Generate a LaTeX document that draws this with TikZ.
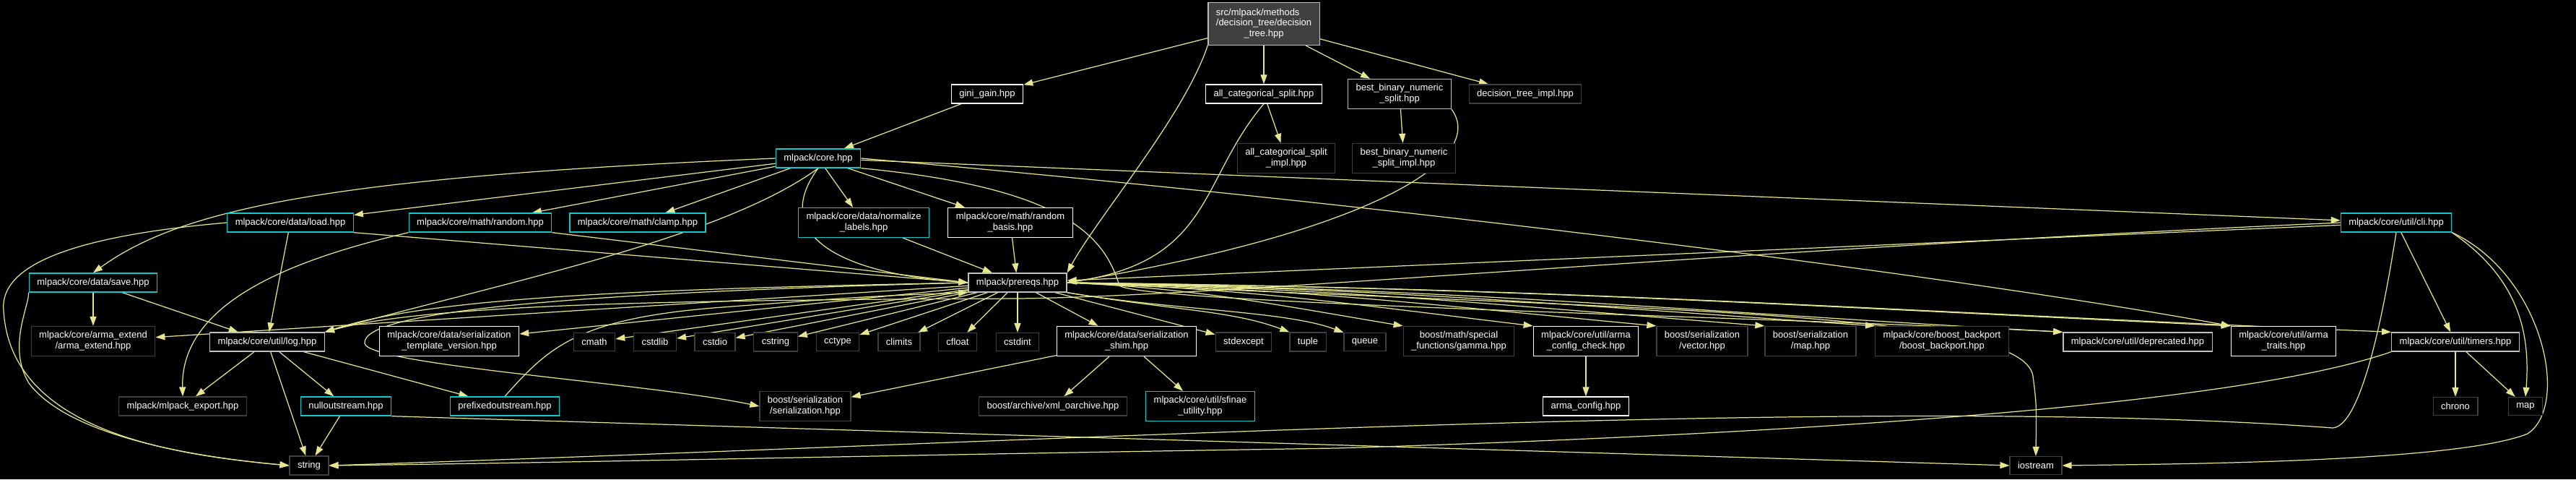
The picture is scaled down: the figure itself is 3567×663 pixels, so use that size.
\documentclass[tikz,border=0pt]{standalone}
\usepackage{fontspec}
\setmainfont{Liberation Sans}
\usetikzlibrary{arrows.meta,backgrounds}
\definecolor{incline}{HTML}{E6E68F}
\definecolor{truncbox}{HTML}{10C8C8}
\definecolor{undocbox}{HTML}{404040}
\definecolor{docgray}{HTML}{C0C0C0}

\begin{document}
\begin{tikzpicture}[x=0.02cm, y=-0.02cm,
    every node/.style={rectangle, draw=white, line width=0.7pt, fill=black, text=white,
        align=center, inner xsep=0.22cm, inner ysep=0.14cm, minimum height=0.5cm,
        font=\fontsize{7.4}{8.5}\selectfont},
    trunc/.style={draw=truncbox},
    undoc/.style={draw=undocbox},
    grayed/.style={draw=docgray},
    inc/.style={draw=incline, line width=0.7pt, -{Triangle[length=0.26cm, width=0.18cm]}}
]
\useasboundingbox (0,0) rectangle (3567,663);

% top levels
\node[fill=undocbox, draw=docgray] (dtree) at (1750,33) {\begin{tabular}{@{}l@{}}src/mlpack/methods\\/decision\_tree/decision\\\multicolumn{1}{@{}c@{}}{\_tree.hpp}\end{tabular}};
\node (gini) at (1367,130) {gini\_gain.hpp};
\node (allcat) at (1750,130) {all\_categorical\_split.hpp};
\node[grayed] (bestbin) at (1938,130) {best\_binary\_numeric\\\_split.hpp};
\node[undoc] (dtimpl) at (2112,130) {decision\_tree\_impl.hpp};
\node[undoc] (allcatimpl) at (1781,219) {all\_categorical\_split\\\_impl.hpp};
\node[undoc] (bestbinimpl) at (1944,219) {best\_binary\_numeric\\\_split\_impl.hpp};
\node[trunc] (core) at (1133,219) {mlpack/core.hpp};

% core includes
\node[trunc] (load) at (402,308) {mlpack/core/data/load.hpp};
\node[trunc] (random) at (665,308) {mlpack/core/math/random.hpp};
\node[trunc] (clamp) at (883,308) {mlpack/core/math/clamp.hpp};
\node[trunc] (normlab) at (1196,308) {mlpack/core/data/normalize\\\_labels.hpp};
\node (rbasis) at (1399,308) {mlpack/core/math/random\\\_basis.hpp};
\node[trunc] (cli) at (3318,308) {mlpack/core/util/cli.hpp};
\node[trunc] (save) at (129,391) {mlpack/core/data/save.hpp};
\node[grayed] (prereqs) at (1409,391) {mlpack/prereqs.hpp};

% prereqs row
\node[undoc] (armaext) at (129,472) {mlpack/core/arma\_extend\\/arma\_extend.hpp};
\node[grayed] (log) at (370,473) {mlpack/core/util/log.hpp};
\node (tmplver) at (622,472) {mlpack/core/data/serialization\\\_template\_version.hpp};
\node[undoc] (cmath) at (823,473) {cmath};
\node[undoc] (cstdlib) at (907,473) {cstdlib};
\node[undoc] (cstdio) at (990,473) {cstdio};
\node[undoc] (cstring) at (1074,473) {cstring};
\node[undoc] (cctype) at (1160,473) {cctype};
\node[undoc] (climits) at (1245,473) {climits};
\node[undoc] (cfloat) at (1326,473) {cfloat};
\node[undoc] (cstdint) at (1409,473) {cstdint};
\node (shim) at (1560,472) {mlpack/core/data/serialization\\\_shim.hpp};
\node[undoc] (stdexcept) at (1722,473) {stdexcept};
\node[undoc] (tuple) at (1811,473) {tuple};
\node[undoc] (queue) at (1890,473) {queue};
\node[undoc] (gamma) at (2020,472) {boost/math/special\\\_functions/gamma.hpp};
\node (cfgcheck) at (2196,472) {mlpack/core/util/arma\\\_config\_check.hpp};
\node[undoc] (bsvector) at (2357,472) {boost/serialization\\/vector.hpp};
\node[undoc] (bsmap) at (2507,472) {boost/serialization\\/map.hpp};
\node[undoc] (backport) at (2689,472) {mlpack/core/boost\_backport\\/boost\_backport.hpp};
\node[grayed] (deprec) at (2960,473) {mlpack/core/util/deprecated.hpp};
\node (armatraits) at (3162,472) {mlpack/core/util/arma\\\_traits.hpp};
\node[grayed] (timers) at (3400,473) {mlpack/core/util/timers.hpp};

% lower rows
\node[undoc] (export) at (253,562) {mlpack/mlpack\_export.hpp};
\node[trunc] (nullout) at (479,562) {nulloutstream.hpp};
\node[trunc] (prefout) at (699,562) {prefixedoutstream.hpp};
\node[undoc] (serial) at (1115,562) {boost/serialization\\/serialization.hpp};
\node[undoc] (xmlarch) at (1458,562) {boost/archive/xml\_oarchive.hpp};
\node[trunc] (sfinae) at (1662,562) {mlpack/core/util/sfinae\\\_utility.hpp};
\node (armacfg) at (2196,562) {arma\_config.hpp};
\node[undoc] (chrono) at (3400,562) {chrono};
\node[undoc] (map) at (3497,562) {map};
\node[undoc] (string) at (428,644) {string};
\node[undoc] (iostream) at (2819,644) {iostream};

\begin{scope}[on background layer]
\fill[black] (0,0) rectangle (3567,663);

% edges of decision_tree.hpp
\foreach \t in {gini, allcat, bestbin, dtimpl}
    \draw[inc] (dtree) -- (\t);
\draw[inc] (dtree.south west) .. controls (1640,160) and (1520,300) .. (prereqs.north east);
\draw[inc] (gini) -- (core);
\draw[inc] (allcat) -- (allcatimpl);
\draw[inc] (allcat.south) .. controls (1660,250) and (1680,360) .. (prereqs.east);
\draw[inc] (bestbin) -- (bestbinimpl);
\draw[inc] (bestbin.south east) .. controls (2060,220) and (1900,320) .. (prereqs.east);

% edges of core.hpp
\foreach \t in {load, random, clamp, normlab, rbasis, cli}
    \draw[inc] (core) -- (\t);
\draw[inc] (core.south) .. controls (1000,330) and (700,390) .. (log.north east);
\draw[inc] (core.west) .. controls (450,245) and (250,290) .. (save.north);
\draw[inc] (core.south) .. controls (1075,310) and (1130,375) .. (prereqs.west);
\draw[inc] (core.east) .. controls (1900,280) and (2700,380) .. (armatraits.north west);
\draw[inc] (core.south east) .. controls (1480,260) and (1530,330) .. (1550,395)
    .. controls (1580,420) and (2500,440) .. (deprec.north west);

% edges of load, save, random
\draw[inc] (load) -- (log);
\draw[inc] (load.south east) -- (prereqs.west);
\draw[inc] (load.west) .. controls (60,330) and (0,380) .. (5,430)
    .. controls (15,600) and (250,630) .. (string.west);
\draw[inc] (save) -- (armaext);
\draw[inc] (save) -- (log);
\draw[inc] (save.south west) .. controls (40,425) and (10,480) .. (40,530)
    .. controls (100,610) and (300,635) .. (string.west);
\draw[inc] (random.south east) -- (prereqs.west);
\draw[inc] (random.south west) .. controls (400,360) and (250,420) .. (export.north);
\draw[inc] (normlab) -- (prereqs);
\draw[inc] (rbasis) -- (prereqs);

% edges of prereqs.hpp
\foreach \t in {cmath, cstdlib, cstdio, cstring, cctype, climits, cfloat, cstdint,
    shim, stdexcept, tmplver, armaext}
    \draw[inc] (prereqs) -- (\t);
\draw[inc] (prereqs.west) .. controls (900,400) and (600,410) .. (log.north east);
\foreach \t in {tuple, queue}
    \draw[inc] (prereqs.south east) .. controls +(150,25) and +(-80,-30) .. (\t.north west);
\foreach \t/\d in {gamma/180, cfgcheck/250, bsvector/320, bsmap/380, backport/440,
    deprec/540, armatraits/640, timers/720}
    \draw[inc] (prereqs.east) .. controls +(\d,8) and +(-\d,-30) .. (\t.north west);
\draw[inc] (prereqs.east) .. controls (2300,430) and (2800,430) .. (2815,520)
    .. controls (2820,560) .. (iostream.north);
\draw[inc] (prereqs.west) .. controls (800,405) and (500,430) .. (505,475)
    .. controls (510,505) and (900,530) .. (serial.west);

% lower edges
\foreach \t in {export, string, nullout, prefout}
    \draw[inc] (log) -- (\t);
\draw[inc] (nullout) -- (string);
\draw[inc] (nullout.south east) -- (iostream.west);
\draw[inc] (prefout.north) .. controls (760,480) and (800,440) .. (1000,425)
    .. controls (1200,410) .. (prereqs.south west);
\foreach \t in {serial, xmlarch, sfinae}
    \draw[inc] (shim) -- (\t);
\draw[inc] (cfgcheck) -- (armacfg);

% edges of cli.hpp and timers.hpp
\draw[inc] (cli) -- (prereqs);
\draw[inc] (cli.west) .. controls (2400,345) and (1700,410) .. (1409,413)
    .. controls (1000,415) and (600,418) .. (log.north east);
\draw[inc] (cli) -- (timers);
\draw[inc] (cli.south east) .. controls (3480,380) and (3505,450) .. (map.north);
\draw[inc] (cli.south east) .. controls (3520,380) and (3560,560) .. (3500,600)
    .. controls (3400,640) and (3000,642) .. (iostream.east);
\draw[inc] (cli.south) .. controls (3290,500) and (3260,590) .. (3230,592)
    .. controls (2600,545) and (1500,610) .. (string.east);
\draw[inc] (timers) -- (chrono);
\draw[inc] (timers) -- (map);
\draw[inc] (timers.south west) .. controls (3100,560) and (2500,600) .. (1850,620)
    .. controls (1200,630) and (800,640) .. (string.east);
\end{scope}
\end{tikzpicture}
\end{document}
